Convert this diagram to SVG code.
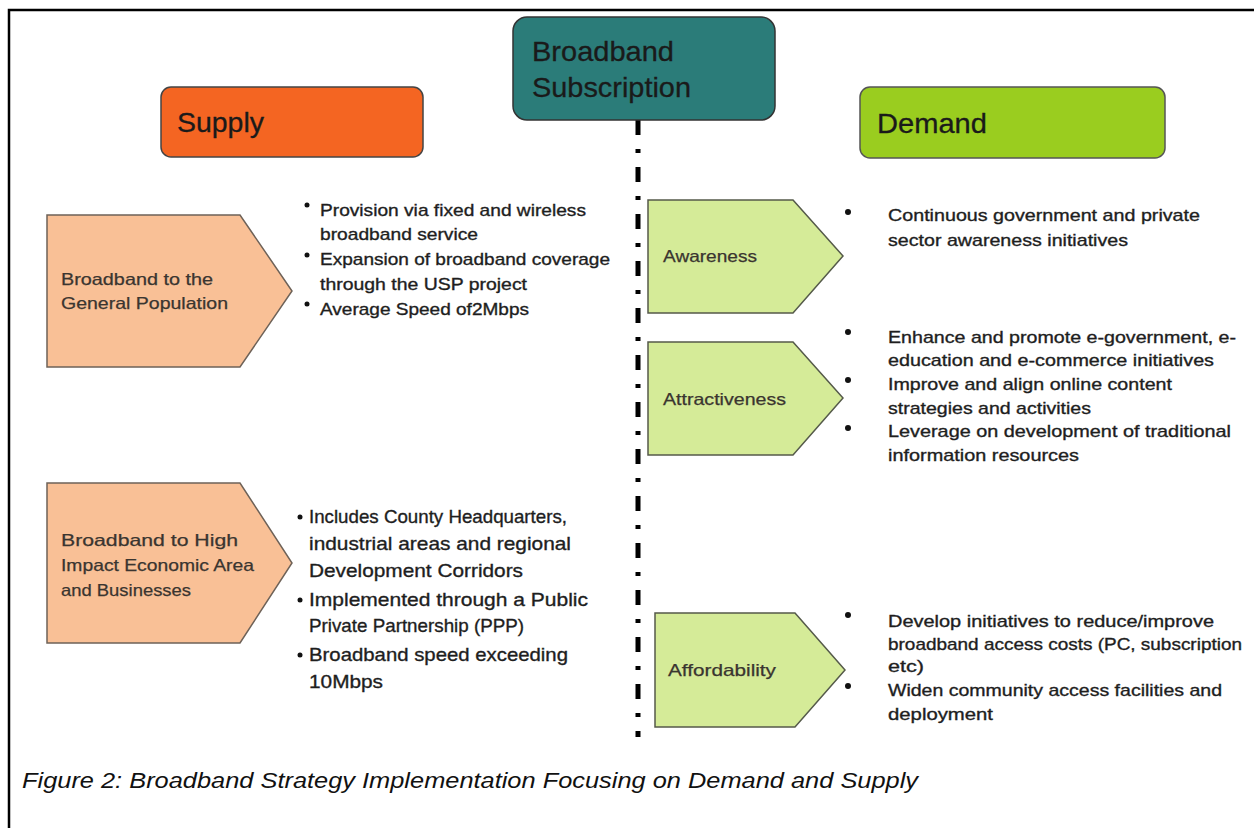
<svg xmlns="http://www.w3.org/2000/svg" width="1254" height="828" viewBox="0 0 1254 828">
<style>
text{font-family:"Liberation Sans","Noto Sans",sans-serif}
.hdr{font-size:28px;fill:#1a1a1a;stroke:#1a1a1a;stroke-width:0.3}
.lbl{font-size:16.5px;fill:#3a3530;stroke:#3a3530;stroke-width:0.25}
.txt{font-size:17px;fill:#1e1e1e;stroke:#1e1e1e;stroke-width:0.35}
.txt2{font-size:19px;fill:#1e1e1e;stroke:#1e1e1e;stroke-width:0.35}
.cap{font-size:22px;font-style:italic;fill:#111}
.peach{fill:#f9c096;stroke:#6e6258;stroke-width:1.5}
.lime{fill:#d5eb98;stroke:#555a4a;stroke-width:1.5}
.dot{fill:#111}
</style>
<rect width="1254" height="828" fill="#fff"/>
<g id="frame" fill="none" stroke="#000" stroke-width="2.5">
<path d="M9 828 V10 H1254"/>
</g>
<g id="connectors">
<line x1="638" y1="120" x2="638" y2="737" stroke="#000" stroke-width="5" stroke-dasharray="15 14 4 14"/>
</g>
<g id="subscription">
<rect x="513" y="17" width="262" height="103" rx="14" fill="#2b7c79" stroke="#333" stroke-width="1.5"/>
<text class="hdr" x="532" y="61" textLength="142" lengthAdjust="spacingAndGlyphs">Broadband</text>
<text class="hdr" x="532" y="97" textLength="159" lengthAdjust="spacingAndGlyphs">Subscription</text>
</g>
<g id="supply">
<rect x="161" y="87" width="262" height="70" rx="10" fill="#f46522" stroke="#444" stroke-width="1.5"/>
<text class="hdr" x="177" y="132" textLength="87" lengthAdjust="spacingAndGlyphs">Supply</text>
</g>
<g id="demand">
<rect x="860" y="87" width="305" height="71" rx="10" fill="#9acd1f" stroke="#555" stroke-width="1.5"/>
<text class="hdr" x="877" y="133" textLength="110" lengthAdjust="spacingAndGlyphs">Demand</text>
</g>
<g id="general-population">
<polygon class="peach" points="47,215 240,215 292,291 240,367 47,367"/>
<text class="lbl" x="61" y="285" textLength="152" lengthAdjust="spacingAndGlyphs">Broadband to the</text>
<text class="lbl" x="61" y="309" textLength="167" lengthAdjust="spacingAndGlyphs">General Population</text>
</g>
<g id="general-population-bullets">
<circle class="dot" cx="307" cy="205" r="2.5"/>
<circle class="dot" cx="307" cy="255" r="2.5"/>
<circle class="dot" cx="307" cy="304" r="2.5"/>
<text class="txt" x="320" y="216" textLength="266" lengthAdjust="spacingAndGlyphs">Provision via fixed and wireless</text>
<text class="txt" x="320" y="240" textLength="158" lengthAdjust="spacingAndGlyphs">broadband service</text>
<text class="txt" x="320" y="265" textLength="290" lengthAdjust="spacingAndGlyphs">Expansion of broadband coverage</text>
<text class="txt" x="320" y="290" textLength="207" lengthAdjust="spacingAndGlyphs">through the USP project</text>
<text class="txt" x="320" y="315" textLength="209" lengthAdjust="spacingAndGlyphs">Average Speed of2Mbps</text>
</g>
<g id="high-impact">
<polygon class="peach" points="47,483 240,483 292,563 240,643 47,643"/>
<text class="lbl" x="61" y="546" textLength="177" lengthAdjust="spacingAndGlyphs">Broadband to High</text>
<text class="lbl" x="61" y="571" textLength="193" lengthAdjust="spacingAndGlyphs">Impact Economic Area</text>
<text class="lbl" x="61" y="596" textLength="130" lengthAdjust="spacingAndGlyphs">and Businesses</text>
</g>
<g id="high-impact-bullets">
<circle class="dot" cx="300" cy="517" r="2.5"/>
<circle class="dot" cx="300" cy="600" r="2.5"/>
<circle class="dot" cx="300" cy="655" r="2.5"/>
<text class="txt2" x="309" y="523" textLength="258" lengthAdjust="spacingAndGlyphs">Includes County Headquarters,</text>
<text class="txt2" x="309" y="550" textLength="262" lengthAdjust="spacingAndGlyphs">industrial areas and regional</text>
<text class="txt2" x="309" y="577" textLength="214" lengthAdjust="spacingAndGlyphs">Development Corridors</text>
<text class="txt2" x="309" y="606" textLength="279" lengthAdjust="spacingAndGlyphs">Implemented through a Public</text>
<text class="txt2" x="309" y="632" textLength="215" lengthAdjust="spacingAndGlyphs">Private Partnership (PPP)</text>
<text class="txt2" x="309" y="661" textLength="259" lengthAdjust="spacingAndGlyphs">Broadband speed exceeding</text>
<text class="txt2" x="309" y="688" textLength="74" lengthAdjust="spacingAndGlyphs">10Mbps</text>
</g>
<g id="awareness">
<polygon class="lime" points="648,200 793,200 843,256 793,313 648,313"/>
<text class="lbl" x="663" y="262" textLength="94" lengthAdjust="spacingAndGlyphs">Awareness</text>
</g>
<g id="awareness-bullets">
<circle class="dot" cx="848" cy="212" r="3"/>
<text class="txt" x="888" y="221" textLength="312" lengthAdjust="spacingAndGlyphs">Continuous government and private</text>
<text class="txt" x="888" y="246" textLength="240" lengthAdjust="spacingAndGlyphs">sector awareness initiatives</text>
</g>
<g id="attractiveness">
<polygon class="lime" points="648,342 793,342 843,398 793,455 648,455"/>
<text class="lbl" x="663" y="405" textLength="123" lengthAdjust="spacingAndGlyphs">Attractiveness</text>
</g>
<g id="attractiveness-bullets">
<circle class="dot" cx="848" cy="332" r="3"/>
<circle class="dot" cx="848" cy="380" r="3"/>
<circle class="dot" cx="848" cy="428" r="3"/>
<text class="txt" x="888" y="343" textLength="348" lengthAdjust="spacingAndGlyphs">Enhance and promote e-government, e-</text>
<text class="txt" x="888" y="366" textLength="326" lengthAdjust="spacingAndGlyphs">education and e-commerce initiatives</text>
<text class="txt" x="888" y="390" textLength="284" lengthAdjust="spacingAndGlyphs">Improve and align online content</text>
<text class="txt" x="888" y="414" textLength="203" lengthAdjust="spacingAndGlyphs">strategies and activities</text>
<text class="txt" x="888" y="437" textLength="343" lengthAdjust="spacingAndGlyphs">Leverage on development of traditional</text>
<text class="txt" x="888" y="461" textLength="191" lengthAdjust="spacingAndGlyphs">information resources</text>
</g>
<g id="affordability">
<polygon class="lime" points="655,613 795,613 845,670 795,727 655,727"/>
<text class="lbl" x="668" y="676" textLength="108" lengthAdjust="spacingAndGlyphs">Affordability</text>
</g>
<g id="affordability-bullets">
<circle class="dot" cx="848" cy="615" r="3"/>
<circle class="dot" cx="848" cy="686" r="3"/>
<text class="txt" x="888" y="627" textLength="326" lengthAdjust="spacingAndGlyphs">Develop initiatives to reduce/improve</text>
<text class="txt" x="888" y="650" textLength="354" lengthAdjust="spacingAndGlyphs">broadband access costs (PC, subscription</text>
<text class="txt" x="888" y="672" textLength="36" lengthAdjust="spacingAndGlyphs">etc)</text>
<text class="txt" x="888" y="696" textLength="334" lengthAdjust="spacingAndGlyphs">Widen community access facilities and</text>
<text class="txt" x="888" y="720" textLength="105" lengthAdjust="spacingAndGlyphs">deployment</text>
</g>
<text class="cap" x="22" y="788" textLength="896" lengthAdjust="spacingAndGlyphs">Figure 2: Broadband Strategy Implementation Focusing on Demand and Supply</text>
</svg>
